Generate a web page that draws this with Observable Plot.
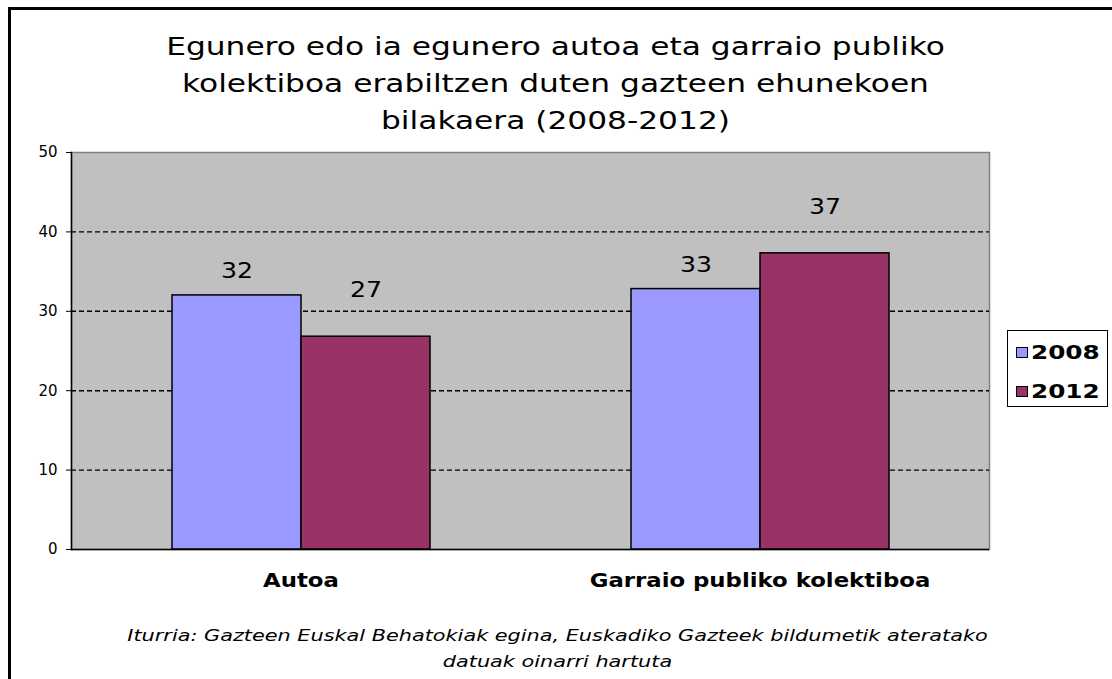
<!DOCTYPE html>
<html>
<head>
<meta charset="utf-8">
<script src="https://cdn.jsdelivr.net/npm/d3@7"></script>
<script src="https://cdn.jsdelivr.net/npm/@observablehq/plot@0.6"></script>
<style>
  html, body { margin: 0; padding: 0; background: #fff; }
  body { font-family: "DejaVu Sans", Verdana, sans-serif; color: #000; }
  #wrap { position: relative; width: 1112px; height: 679px; overflow: hidden; background: #fff; }
  #border { position: absolute; left: 8px; top: 7px; width: 1300px; height: 900px;
            border-left: 3px solid #000; border-top: 3px solid #000; }
  #title { position: absolute; left: 0; top: 28px; width: 1112px; text-align: center;
           font-size: 25px; line-height: 37px; transform: scaleX(1.25); transform-origin: 558px 0; }
  #chart { position: absolute; left: 0; top: 140px; }
  #caption { position: absolute; left: 0; top: 623px; width: 1112px; text-align: center;
             font-style: italic; font-size: 16px; line-height: 26px; transform: scaleX(1.3); transform-origin: 551px 0; }
  #legend { position: absolute; left: 1007px; top: 330px; width: 99px; height: 75px;
            border: 1px solid #000; background: #fff; font-weight: bold; font-size: 19px; }
  #legend .item { position: absolute; left: 8px; display: flex; align-items: center; }
  #legend .sw { width: 10px; height: 9px; border: 1px solid #000; margin-right: 3px; }
  #legend .lt { display: inline-block; transform: scaleX(1.3); transform-origin: 0 0; }
</style>
</head>
<body>
<div id="wrap">
  <div id="border"></div>
  <div id="title"></div>
  <div id="chart"></div>
  <div id="caption"></div>
  <div id="legend"></div>
</div>
<script>
const titleLines = [
  "Egunero edo ia egunero autoa eta garraio publiko",
  "kolektiboa erabiltzen duten gazteen ehunekoen",
  "bilakaera (2008-2012)"
];
const captionLines = [
  "Iturria: Gazteen Euskal Behatokiak egina, Euskadiko Gazteek bildumetik ateratako",
  "datuak oinarri hartuta"
];
const categories = ["Autoa", "Garraio publiko kolektiboa"];
const years = ["2008", "2012"];
const values2008 = [32.0, 32.8];
const values2012 = [26.8, 37.3];
const labels2008 = [32, 33];
const labels2012 = [27, 37];
const yTicks = [0, 10, 20, 30, 40, 50];
const gridTicks = [10, 20, 30, 40];
const colors = ["#9999ff", "#993366"];

const rows = [];
categories.forEach((c, i) => {
  rows.push({category: c, year: years[0], value: values2008[i], label: labels2008[i]});
  rows.push({category: c, year: years[1], value: values2012[i], label: labels2012[i]});
});

document.getElementById("title").innerHTML = titleLines.join("<br>");
document.getElementById("caption").innerHTML = captionLines.join("<br>");
const legend = document.getElementById("legend");
years.forEach((y, i) => {
  const it = document.createElement("div");
  it.className = "item";
  it.style.top = (i === 0 ? 10 : 49) + "px";
  it.innerHTML = `<span class="sw" style="background:${colors[i]}"></span><span class="lt">${y}</span>`;
  legend.appendChild(it);
});

const chart = Plot.plot({
  width: 1112,
  height: 460,
  marginLeft: 70,
  marginRight: 123,
  marginTop: 12,
  marginBottom: 51,
  style: { fontFamily: "DejaVu Sans, Verdana, sans-serif", fontSize: "14px", background: "transparent", overflow: "visible", color: "#000" },
  fx: { domain: categories, padding: 0, label: null },
  x: { domain: years, paddingInner: 0, paddingOuter: 0.77, axis: null },
  y: { domain: [0, 50], label: null },
  color: { domain: years, range: colors },
  marks: [
    Plot.frame({ facet: "super", fill: "#c0c0c0", stroke: "#808080", strokeWidth: 1.5 }),
    Plot.ruleY(gridTicks, { stroke: "#000", strokeDasharray: "5,3", strokeWidth: 1.4 }),
    Plot.barY(rows, { fx: "category", x: "year", y: "value", fill: "year", stroke: "#000", strokeWidth: 1.5 }),
    Plot.text(rows.filter(d => d.year === years[0]), { fx: "category", x: "year", y: "value", text: "label", dy: -24, fontSize: 21 }),
    Plot.text(rows.filter(d => d.year === years[1]), { fx: "category", x: "year", y: "value", text: "label", dy: -46, fontSize: 21 }),
    Plot.ruleY([0], { stroke: "#000", strokeWidth: 1.5 }),
    Plot.frame({ facet: "super", anchor: "left", stroke: "#000", strokeWidth: 1.5 }),
    Plot.axisY({ ticks: yTicks, tickSize: 5, tickPadding: 9, label: null, stroke: "#000" }),
    Plot.axisFx({ anchor: "bottom", tickSize: 0, tickPadding: 24, fontSize: 19, fontWeight: "bold", label: null })
  ]
});
// stretch some labels horizontally around their anchor, like the reference's wide type
chart.querySelectorAll('g[aria-label="fx-axis tick label"] text, g[aria-label="text"] text').forEach(t => {
  const tr = t.getAttribute("transform") || "";
  t.setAttribute("transform", (tr + " scale(1.2,1)").trim());
});
chart.querySelectorAll('g[aria-label="y-axis tick label"]').forEach(g => g.setAttribute("font-size", "15"));
document.getElementById("chart").appendChild(chart);
</script>
</body>
</html>
